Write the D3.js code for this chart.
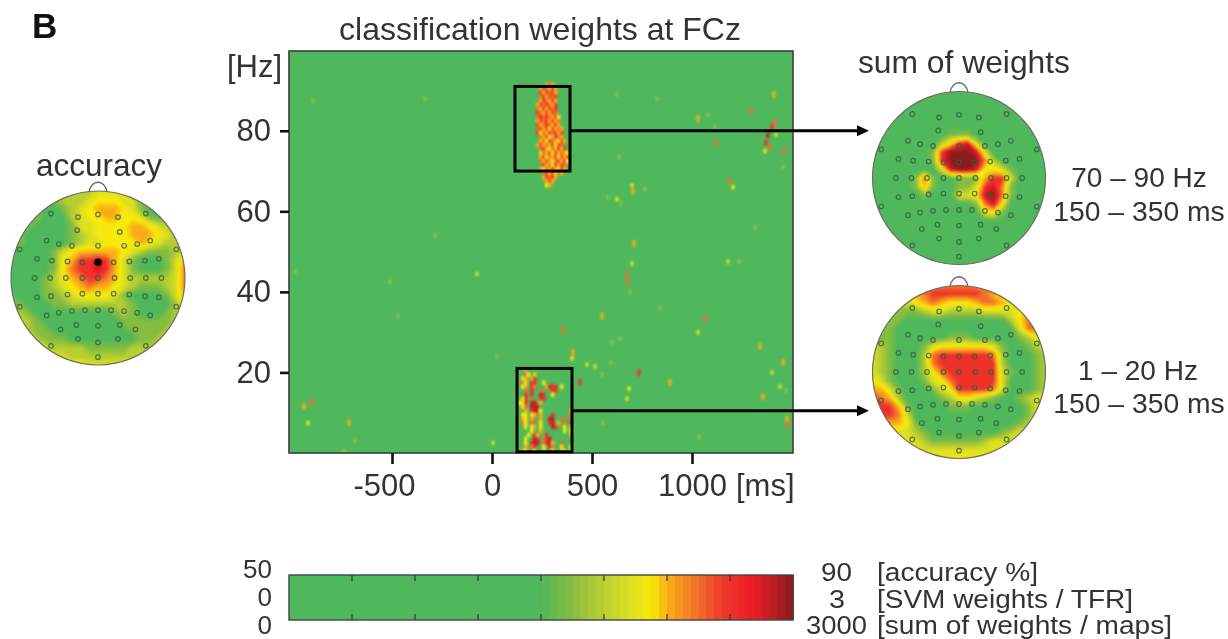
<!DOCTYPE html>
<html>
<head>
<meta charset="utf-8">
<script src="https://cdn.jsdelivr.net/npm/d3@7"></script>
<style>
  html, body { margin: 0; padding: 0; background: #fff; }
  svg { display: block; font-family: "Liberation Sans", Arial, sans-serif; fill: #333; }
</style>
</head>
<body>
<svg id="chart" width="1228" height="639"></svg>
<script>
const timeTicks = [-500, 0, 500, 1000];
const freqTicks = [20, 40, 60, 80];
const timeDomain = [-1015, 1505];
const freqDomain = [0, 99.8];

// isolated speckles in the time-frequency plane: ms, Hz, colour level
const speckTime = [625, 825, 1410, 1295, 1030, 1080, 1115, 1120, 1400, 1380, 1370, 1415, 1390, 1365, 1420, 1460, 1455, 1190, 1205, 635, 700, 705, 765, 580, 625, 645, 1315, 710, 700, 675, 680, 1180, 1235, 690, 550, 840, 1065, 1030, 600, 640, 405, 400, 475, 515, 595, 550, 735, 440, 890, 685, 675, 1340, 1455, 1400, 1440, 1355, 1470, 1475, 1480, 555, 1035, -985, -510, -75, -470, 25, -900, -940, -920, -715, -685, 5, -740, -895, -335, -285, 355];
const speckFreq = [89, 88, 89, 85, 83, 84, 81, 77, 81, 79, 77, 82, 76, 75, 79, 75, 71, 67.5, 66, 73.5, 66.5, 65, 65.5, 63.5, 63, 62, 56, 52, 47, 44.5, 42.5, 47.5, 47.5, 40, 34, 36, 33.5, 30, 27.5, 28.5, 25, 23.5, 22, 21.5, 22.5, 19.5, 20, 17.5, 17.5, 16, 13.5, 26.5, 22.5, 20, 16.5, 14, 15.5, 8.5, 7, 7.5, 4, 45, 42.5, 44.5, 34, 24, 12.5, 11.5, 7.5, 7.5, 3, 2.5, 0.5, 87.5, 88, 54, 30.5];
const speckLevel = [2, 2, 5, 6, 5, 2, 2, 6, 7, 8, 7, 6, 6, 4, 3, 6, 2, 6, 4, 2, 3, 5, 2, 2, 4, 2, 2, 5, 3, 6, 6, 3, 2, 2, 5, 2, 6, 3, 2, 2, 5, 4, 3, 3, 2, 2, 7, 7, 5, 4, 4, 5, 5, 3, 3, 5, 2, 5, 6, 2, 2, 2, 2, 3, 2, 2, 6, 5, 4, 5, 2, 3, 2, 2, 2, 2, 6];

// dense weights inside the two boxes, one char per 15 ms / 1 Hz
const upperStartMs = 205;
const upperStartHz = 92;
const upperCells = [
  "00005650000000",
  "00576575000000",
  "00757675000000",
  "00675767000000",
  "00576575000000",
  "05767657000000",
  "06575767000000",
  "07657576000000",
  "06767657400000",
  "05767575600000",
  "07567657500000",
  "06757375650000",
  "07365767570000",
  "00657357650000",
  "00563765375000",
  "05756573760000",
  "00675365757000",
  "00365737565400",
  "00573657375700",
  "00657536757400",
  "00075637576000",
  "00536575375000",
  "00067573650000",
  "00057675000000",
  "00005750000000",
  "00004500000000"
];
const lowerStartMs = 130;
const lowerStartHz = 21;
const lowerCells = [
  "0050000000000000000",
  "0064030000000000000",
  "0450570000000000000",
  "0640770040000000000",
  "0450760005877040000",
  "0060700600077000000",
  "0070700870040000000",
  "0470600770000000000",
  "4370880500000000000",
  "0460888000000000000",
  "0050788400000000050",
  "0440450500070000060",
  "0540560500880006060",
  "0640600400780560070",
  "0040450400087004050",
  "0000400500000004040",
  "0004075007000000050",
  "0040087067800000000",
  "0040788067850060000",
  "0050670040760040040",
  "0340040030040053040"
];

// boxes: ms from, ms to, Hz from, Hz to
const boxTime = [[115, 390], [125, 400]];
const boxFreq = [[70, 91], [0.3, 21]];
const arrowFreq = [80, 10.5];
const arrowEndMs = 1885;

// colour bar
const barStops = [0.5, 0.56, 0.62, 0.68, 0.72, 0.75, 0.8, 0.86, 0.92, 0.97, 1];
const barColors = ["#50b85c", "#86bc3f", "#b6ce33", "#dfe01f", "#f7e90a", "#fbb016", "#f37a29", "#ee3a2c", "#ed1c24", "#b01e24", "#8b1a1a"];
const levelSteps = [0, 1, 2, 3, 4, 5, 6, 7, 8, 9];
const levelStops = [0.5, 0.56, 0.62, 0.68, 0.72, 0.755, 0.81, 0.88, 0.95, 1];
const barLeftLabels = ["50", "0", "0"];
const barRightValues = ["90", "3", "3000"];
const barRightRight = [852, 845, 867];
const barRightWidths = [31, 16, 61];
const barRightNames = ["[accuracy %]", "[SVM weights / TFR]", "[sum of weights / maps]"];
const barRightNameWidths = [161, 256, 295];

// electrode layout, percent of head radius
const electrodeX = [-54, -23, 0, 23, 55, -24, 25, -59, -45, -30, 0, 30, 45, 60, -90, 90, -70, -53, -35, -18, 0, 18, 36, 54, 70, -73, -55, -37, -18, 0, 19, 37, 55, 73, -70, -54, -35, -18, 0, 18, 36, 54, 70, -90, 90, -59, -45, -30, -15, 0, 15, 30, 45, 60, -25, 25, -43, 0, 43, -23, 0, 23, -54, 55, 0];
const electrodeY = [-74, -70, -73, -70, -74, -55, -53, -43, -39, -37, -37, -37, -39, -43, -33, -33, -22, -20, -19, -18, -18, -18, -19, -20, -22, 0, 0, 0, 0, 0, 0, 0, 0, 0, 22, 21, 19, 18, 18, 18, 19, 21, 22, 33, 33, 43, 40, 38, 37, 37, 37, 38, 40, 43, 54, 54, 59, 55, 59, 70, 74, 70, 78, 78, 91];

// scalp maps, 21 x 21 colour levels
const accuracyMap = [
  "222222222233332222222",
  "111111222344433111111",
  "111100123455543100011",
  "111100023445544310111",
  "111000013344445543211",
  "110000012344445554322",
  "110000012334444543222",
  "000001345555543211123",
  "000001457787531000135",
  "000001467787531000136",
  "000012456776532222236",
  "000012345655432111236",
  "000011234444310000135",
  "110001122222221000024",
  "221000000000121000123",
  "222100000000011111122",
  "222110000000001111222",
  "333211100000000112333",
  "333332222111112223333",
  "444433322222222333344",
  "444444444333344444444"
];
const highGammaMap = [
  "000000000000000000000",
  "000000000000000000000",
  "000000000000000000000",
  "000000000000000000000",
  "000000000000000000000",
  "000000000111000000000",
  "000000002478300000000",
  "000000017999830000000",
  "000000017999962000000",
  "000000003899844310000",
  "000001610011157730000",
  "000001510011378610000",
  "000000100033489610000",
  "000000000000168400000",
  "000000000000034100000",
  "000000000000000000000",
  "000000000000000000000",
  "000000000000000000000",
  "000000000000000000000",
  "000000000000000000000",
  "000000000000000000000"
];
const lowFreqMap = [
  "666666666666666666666",
  "444445677777765444444",
  "333334565444566543333",
  "111111233222233334544",
  "111100000000000024666",
  "111000000000000003666",
  "211000000111000001245",
  "321000134444443100123",
  "321000267777776200012",
  "321000267777777200012",
  "321000246777777310012",
  "431000134677777300012",
  "553100013477776300012",
  "765200001244321001233",
  "777510000111000000134",
  "777630000000000000133",
  "555541000000000001233",
  "333332100000000123333",
  "333333211111123333333",
  "444443333333333344444",
  "444444444444444444444"
];

const svg = d3.select("#chart");

const barColor = d3.scaleLinear().domain(barStops).range(barColors).clamp(true);
const levelT = d3.scaleLinear().domain(levelSteps).range(levelStops);
const levelColor = (v) => barColor(levelT(v));

const defs = svg.append("defs");
const addBlur = (id, amount) =>
  defs.append("filter").attr("id", id)
    .attr("x", "-5%").attr("y", "-5%").attr("width", "110%").attr("height", "110%")
    .append("feGaussianBlur").attr("stdDeviation", amount);
addBlur("soft", 1);
addBlur("softText", 0.3);
defs.append("clipPath").attr("id", "plotClip")
  .append("rect").attr("x", 289).attr("y", 51).attr("width", 504).attr("height", 402);

// main time-frequency panel
const x = d3.scaleLinear().domain(timeDomain).range([289, 793]);
const y = d3.scaleLinear().domain(freqDomain).range([453, 51]);

svg.append("rect").attr("x", 289).attr("y", 51).attr("width", 504).attr("height", 402)
  .attr("fill", barColors[0]);

const heat = svg.append("g").attr("clip-path", "url(#plotClip)")
  .append("g").attr("filter", "url(#soft)");

const drawCells = (cells, startMs, startHz) => {
  const flat = [];
  cells.forEach((row, r) => {
    row.split("").forEach((ch, c) => {
      if (ch !== "0") flat.push({ t: startMs + c * 15, hz: startHz - r, v: +ch });
    });
  });
  heat.append("g").selectAll("rect").data(flat).enter().append("rect")
    .attr("x", (d) => x(d.t))
    .attr("y", (d) => y(d.hz))
    .attr("width", x(15) - x(0) + 0.4)
    .attr("height", y(0) - y(1) + 0.4)
    .attr("fill", (d) => levelColor(d.v));
};
drawCells(upperCells, upperStartMs, upperStartHz);
drawCells(lowerCells, lowerStartMs, lowerStartHz);

heat.append("g").selectAll("ellipse").data(speckTime).enter().append("ellipse")
  .attr("cx", (d) => x(d))
  .attr("cy", (d, i) => y(speckFreq[i]))
  .attr("rx", 1.7)
  .attr("ry", (d, i) => (speckLevel[i] > 4 ? 3.6 : 2.6))
  .attr("fill", (d, i) => levelColor(speckLevel[i]))
  .attr("opacity", (d, i) => (speckLevel[i] < 3 ? 0.55 : 1));

svg.append("rect").attr("x", 289).attr("y", 51).attr("width", 504).attr("height", 402)
  .attr("fill", "none").attr("stroke", "#3c3c3c").attr("stroke-width", 1.6);

const styleAxis = (g) => {
  g.select(".domain").remove();
  g.selectAll("line").attr("stroke", "#111").attr("stroke-width", 2.6);
  g.selectAll("text").attr("fill", "#333").style("font-family", "inherit").style("font-size", "31px");
};

svg.append("g").attr("transform", "translate(0,453)")
  .call(d3.axisBottom(x).tickValues(timeTicks).tickSize(11).tickPadding(10).tickFormat((d) => String(d)))
  .call(styleAxis)
  .selectAll("text").attr("dx", (d) => (d < 0 ? -8 : 0));
svg.append("g").attr("transform", "translate(289,0)")
  .call(d3.axisLeft(y).tickValues(freqTicks).tickSize(9).tickPadding(9).tickFormat((d) => String(d)))
  .call(styleAxis);

svg.selectAll(".boxes").data(boxTime).enter().append("rect")
  .attr("x", (d) => x(d[0]))
  .attr("width", (d) => x(d[1]) - x(d[0]))
  .attr("y", (d, i) => y(boxFreq[i][1]))
  .attr("height", (d, i) => y(boxFreq[i][0]) - y(boxFreq[i][1]))
  .attr("fill", "none").attr("stroke", "#000").attr("stroke-width", 3);

arrowFreq.forEach((hz, i) => {
  const ay = y(hz);
  const ax = x(arrowEndMs);
  svg.append("line")
    .attr("x1", x(boxTime[i][1])).attr("x2", ax - 8)
    .attr("y1", ay).attr("y2", ay)
    .attr("stroke", "#000").attr("stroke-width", 3);
  svg.append("path")
    .attr("d", `M${ax},${ay}L${ax - 12},${ay - 5.5}L${ax - 12},${ay + 5.5}Z`)
    .attr("fill", "#000");
});

// scalp maps
const drawHead = (grid, cx, cy, r, marker) => {
  const id = "head" + cx + "_" + cy;
  defs.append("clipPath").attr("id", id)
    .append("circle").attr("cx", cx).attr("cy", cy).attr("r", r);

  const values = [];
  grid.forEach((row) => row.split("").forEach((ch) => values.push(+ch)));

  const contours = d3.contours().size([21, 21]).thresholds(d3.range(0.25, 9.25, 0.25))(values);
  const path = d3.geoPath(d3.geoTransform({
    point(px, py) {
      this.stream.point(cx + ((px - 10.5) * r) / 10, cy + ((py - 10.5) * r) / 10);
    },
  }));

  // ear
  svg.append("path")
    .attr("d", `M${cx - 9},${cy - r + 1}C${cx - 7},${cy - r - 12} ${cx + 7},${cy - r - 12} ${cx + 9},${cy - r + 1}`)
    .attr("fill", "#fff").attr("stroke", "#666").attr("stroke-width", 1.3);

  const clipped = svg.append("g").attr("clip-path", `url(#${id})`);
  const inner = clipped.append("g").attr("filter", "url(#soft)");
  inner.append("circle").attr("cx", cx).attr("cy", cy).attr("r", r + 4).attr("fill", levelColor(0));
  inner.selectAll("path").data(contours).enter().append("path")
    .attr("d", path)
    .attr("fill", (d) => levelColor(d.value));

  svg.append("circle").attr("cx", cx).attr("cy", cy).attr("r", r)
    .attr("fill", "none").attr("stroke", "#6d6d60").attr("stroke-width", 1.2);

  const ex = d3.scaleLinear().domain([-100, 100]).range([cx - r, cx + r]);
  const ey = d3.scaleLinear().domain([-100, 100]).range([cy - r, cy + r]);
  svg.append("g").selectAll("circle").data(electrodeX).enter().append("circle")
    .attr("cx", (d) => ex(d))
    .attr("cy", (d, i) => ey(electrodeY[i]))
    .attr("r", 2.3)
    .attr("fill", "none")
    .attr("stroke", "#2f5f3e")
    .attr("stroke-opacity", 0.8)
    .attr("stroke-width", 1.2);

  if (marker) {
    svg.append("circle").attr("cx", ex(marker[0])).attr("cy", ey(marker[1])).attr("r", 3.8).attr("fill", "#000");
  }
};

drawHead(accuracyMap, 98, 278, 87, [0, -18]);
drawHead(highGammaMap, 959, 178, 86.5);
drawHead(lowFreqMap, 959, 372, 86.5);

// colour bar
const barX = d3.scaleLinear().domain([0, 1]).range([289, 793]);
const barSteps = d3.range(0, 1, 1 / 64);
svg.append("g").attr("shape-rendering", "crispEdges").selectAll("rect").data(barSteps).enter().append("rect")
  .attr("x", (d) => barX(d))
  .attr("y", 575)
  .attr("width", barX(1 / 64) - barX(0) + 1)
  .attr("height", 45)
  .attr("fill", (d) => barColor(d < 0.5 ? 0.5 : d + 1 / 128));
svg.append("rect").attr("x", 289).attr("y", 575).attr("width", 504).attr("height", 45)
  .attr("fill", "none").attr("stroke", "#444").attr("stroke-width", 1.4);
d3.range(1, 8).forEach((k) => {
  [[575, 581], [614, 620]].forEach((seg) => {
    svg.append("line")
      .attr("x1", barX(k / 8)).attr("x2", barX(k / 8))
      .attr("y1", seg[0]).attr("y2", seg[1])
      .attr("stroke", "#333").attr("stroke-width", 1.2);
  });
});

const addText = (txt, tx, ty, size, anchor, weight, width) => {
  const t = svg.append("text").attr("x", tx).attr("y", ty)
    .attr("text-anchor", anchor || "start")
    .attr("font-size", size)
    .attr("font-weight", weight || "normal")
    .text(txt);
  if (width) t.attr("textLength", width).attr("lengthAdjust", "spacingAndGlyphs");
  return t;
};

const rowY = [578, 606, 634];
barLeftLabels.forEach((t, i) => addText(t, 272, rowY[i], 26, "end"));
const rightY = [581, 608, 634];
barRightValues.forEach((t, i) => addText(t, barRightRight[i], rightY[i], 25, "end", null, barRightWidths[i]));
barRightNames.forEach((t, i) => addText(t, 877, rightY[i], 25, "start", null, barRightNameWidths[i]));

addText("B", 32, 38, 35, "start", "bold").attr("fill", "#111");
addText("classification weights at FCz", 540, 40, 32, "middle");
addText("[Hz]", 282, 77, 31, "end");
addText("[ms]", 736, 496, 31);
addText("accuracy", 99, 176, 31.5, "middle");
addText("sum of weights", 964, 73, 31.8, "middle");
addText("70 – 90 Hz", 1139, 187, 28, "middle");
addText("150 – 350 ms", 1139, 221, 28.3, "middle");
addText("1 – 20 Hz", 1138, 380, 28, "middle");
addText("150 – 350 ms", 1139, 413, 28.3, "middle");
</script>
</body>
</html>
